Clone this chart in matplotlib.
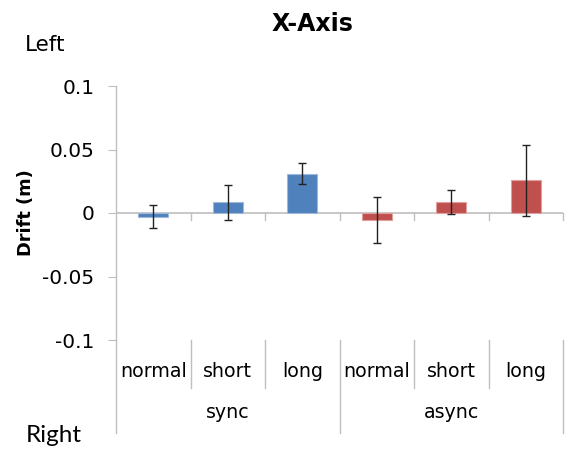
import matplotlib
matplotlib.use("Agg")
import matplotlib.pyplot as plt
import matplotlib.transforms as mtrans
import numpy as np

groups = ["sync", "async"]
conditions = ["normal", "short", "long"]
sync_vals = [-0.0028, 0.0084, 0.0311]
sync_err = [0.0094, 0.0138, 0.0083]
async_vals = [-0.0054, 0.0084, 0.0258]
async_err = [0.018, 0.0094, 0.028]
yticks = [-0.1, -0.05, 0, 0.05, 0.1]
ytick_labels = ["-0.1", "-0.05", "0", "0.05", "0.1"]

plt.rcParams['font.family'] = ['DejaVu Sans']

fig = plt.figure(figsize=(5.66, 4.5), dpi=100)
ax = fig.add_axes([116/566, 1-340/450, (563-116)/566, (340-86)/450])

blue = "#4F81BD"
red = "#C0504D"
n = len(conditions)
x_sync = np.arange(n)
x_async = np.arange(n) + n
ax.bar(x_sync, sync_vals, width=0.4, color=blue, edgecolor="#9DB9DD", linewidth=0.8, zorder=2)
ax.bar(x_async, async_vals, width=0.4, color=red, edgecolor="#E0A09E", linewidth=0.8, zorder=2)
ax.errorbar(x_sync, sync_vals, yerr=sync_err, fmt="none", ecolor="#222222", elinewidth=1, capsize=3, capthick=1, zorder=3)
ax.errorbar(x_async, async_vals, yerr=async_err, fmt="none", ecolor="#222222", elinewidth=1, capsize=3, capthick=1, zorder=3)

ax.set_xlim(-0.5, 2*n - 0.5)
ax.set_ylim(-0.1, 0.1)
ax.set_yticks(yticks)
ax.set_yticklabels(ytick_labels, fontsize=14.5)
ax.set_xticks([])
for s in ["top", "right", "bottom"]:
    ax.spines[s].set_visible(False)
ax.spines["left"].set_color("#BFBFBF")
ax.spines["left"].set_linewidth(1)
ax.tick_params(axis="y", direction="out", length=5.5, color="#BFBFBF", pad=10)

# zero line with boundary ticks
ax.axhline(0, color="#BFBFBF", linewidth=1.2, zorder=1)
for b in np.arange(0.5, 2*n + 0.5, 1.0):
    ax.plot([b, b], [0, -0.0055], color="#BFBFBF", lw=1, zorder=1, clip_on=False)

# category axis below
bt = mtrans.blended_transform_factory(ax.transData, ax.transAxes)
h = 254.0
for i, b in enumerate(np.arange(-0.5, 2*n, 1.0)):
    if i % n == 0:
        y1 = -(433-340)/h
    else:
        y1 = -(388-340)/h
    ax.plot([b, b], [0, y1], color="#BFBFBF", lw=1, transform=bt, clip_on=False)

for gi, g in enumerate(groups):
    for ci, c in enumerate(conditions):
        ax.text(gi*n + ci, -(377-340)/h, c, transform=bt, ha="center", va="baseline", fontsize=13.7)
    ax.text(gi*n + (n-1)/2, -(418-340)/h, g, transform=bt, ha="center", va="baseline", fontsize=13.7)

fig.text(312/566, 1-31/450, "X-Axis", ha="center", va="baseline", fontsize=17, fontweight="bold")
fig.text(25/566, 1-51/450, "Left", ha="left", va="baseline", fontsize=15.5)
fig.text(26/566, 1-442/450, "Right", ha="left", va="baseline", fontsize=17.5, family=["Lato", "DejaVu Sans"])
fig.text(26/566, 1-213/450, "Drift (m)", ha="center", va="center", fontsize=12.8, fontweight="bold", rotation=90)

fig.savefig("out.png", dpi=100)
